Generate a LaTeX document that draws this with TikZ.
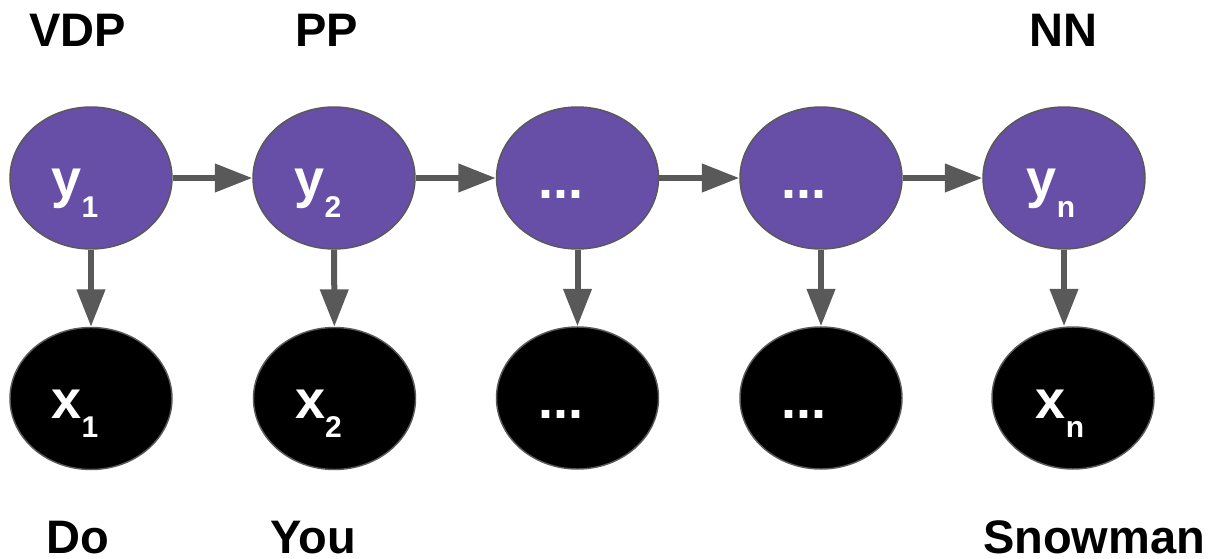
\documentclass[tikz,border=0pt]{standalone}
\usepackage{fontspec}
\setmainfont{Liberation Sans}
\usetikzlibrary{shapes.geometric,arrows.meta}
\definecolor{statepurple}{HTML}{674EA7}
\definecolor{edgegray}{HTML}{595959}
% variable name with a dropped subscript
\newcommand{\varlab}[2]{{\fontsize{40.5pt}{40.5pt}\selectfont #1}{\fontsize{22.5pt}{22.5pt}\selectfont\raisebox{-14.5pt}{#2}}}
\begin{document}
\begin{tikzpicture}[x=0.75pt,y=-0.75pt,
  hidden/.style={ellipse,draw=edgegray,line width=1.1pt,fill=statepurple,
    minimum width=121.5pt,minimum height=106.5pt,inner sep=0pt},
  observed/.style={hidden,fill=black},
  nodetext/.style={text=white,font=\bfseries\fontsize{40.5pt}{40.5pt}\selectfont,anchor=base,inner sep=0pt},
  tag/.style={font=\bfseries\fontsize{35.25pt}{35.25pt}\selectfont,anchor=base,inner sep=0pt},
  link/.style={draw=edgegray,line width=4.5pt,-{Triangle[length=28pt,width=20.5pt]}}]
\useasboundingbox (0,0) rectangle (1209,559);

% hidden states
\node[hidden] (y1) at (91,178) {};
\node[hidden] (y2) at (334,178) {};
\node[hidden] (y3) at (577.5,178) {};
\node[hidden] (y4) at (821,178) {};
\node[hidden] (y5) at (1064,178) {};

% observations
\node[observed] (x1) at (91,398.5) {};
\node[observed] (x2) at (334.5,398.5) {};
\node[observed] (x3) at (577.5,398) {};
\node[observed] (x4) at (821,398) {};
\node[observed] (x5) at (1073,398) {};

% names inside the ellipses
\node[nodetext] (ty1) at ([shift={(-16,20)}]y1.center) {\varlab{y}{1}};
\node[nodetext] (ty2) at ([shift={(-16,20)}]y2.center) {\varlab{y}{2}};
\node[nodetext] (ty3) at ([shift={(-17,21)}]y3.center) {...};
\node[nodetext] (ty4) at ([shift={(-17,21)}]y4.center) {...};
\node[nodetext] (ty5) at ([shift={(-13,20)}]y5.center) {\varlab{y}{n}};
\node[nodetext] (tx1) at ([shift={(-16,20)}]x1.center) {\varlab{x}{1}};
\node[nodetext] (tx2) at ([shift={(-16,20)}]x2.center) {\varlab{x}{2}};
\node[nodetext] (tx3) at ([shift={(-17,20)}]x3.center) {...};
\node[nodetext] (tx4) at ([shift={(-17,20)}]x4.center) {...};
\node[nodetext] (tx5) at ([shift={(-13,20)}]x5.center) {\varlab{x}{n}};

% transitions
\draw[link] (y1) -- (y2);
\draw[link] (y2) -- (y3);
\draw[link] (y3) -- (y4);
\draw[link] (y4) -- (y5);

% emissions
\draw[link] (y1) -- (x1);
\draw[link] (y2) -- (x2);
\draw[link] (y3) -- (x3);
\draw[link] (y4) -- (x4);
\draw[link] (y5.south) -- (y5.south |- x5.north);

% tags and words
\node[tag] (vdp) at (77.5,47) {VDP};
\node[tag] (pp) at (326.5,47) {PP};
\node[tag] (nn) at (1063,47) {NN};
\node[tag] (w1) at (78,553) {Do};
\node[tag] (w2) at (313.5,553) {You};
\node[tag] (wn) at (1094,553) {Snowman};
\end{tikzpicture}
\end{document}
